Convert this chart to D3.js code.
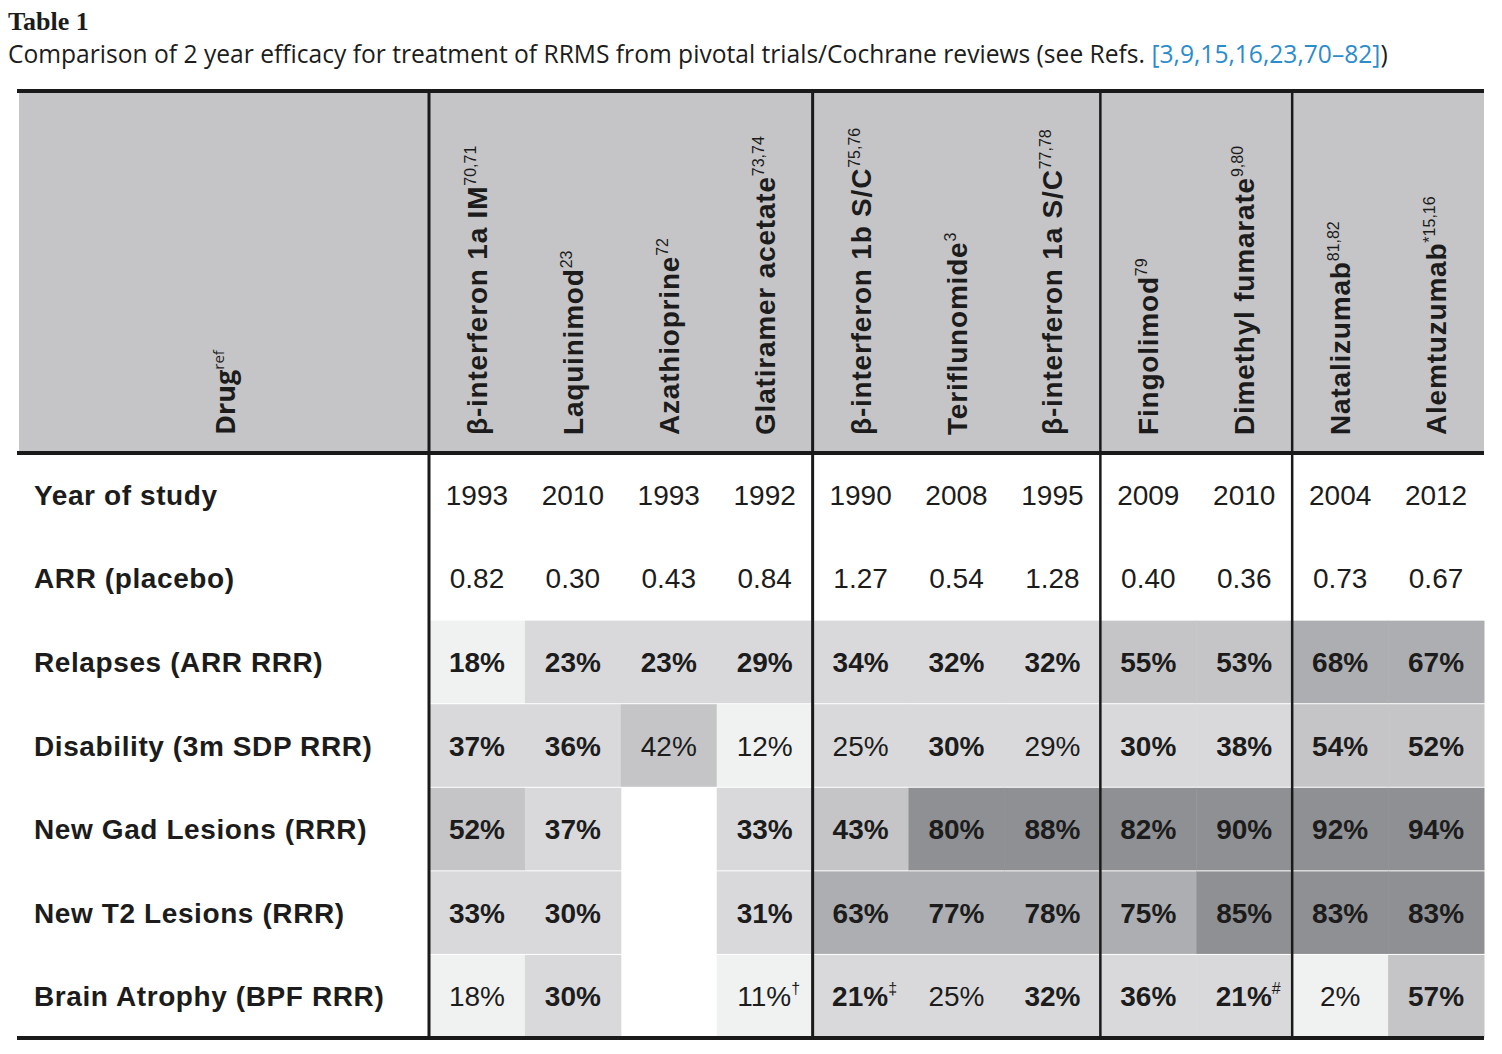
<!DOCTYPE html>
<html>
<head>
<meta charset="utf-8">
<script src="https://cdn.jsdelivr.net/npm/d3@7"></script>
<style>
  body { margin: 0; background: #fff; }
  svg text { fill: #1c1c1c; }
</style>
</head>
<body>
<svg id="tbl" width="1502" height="1054"></svg>
<script>
// table values
const drugs = ["β-interferon 1a IM", "Laquinimod", "Azathioprine", "Glatiramer acetate",
  "β-interferon 1b S/C", "Teriflunomide", "β-interferon 1a S/C",
  "Fingolimod", "Dimethyl fumarate", "Natalizumab", "Alemtuzumab"];
const drugRefs = ["70,71", "23", "72", "73,74", "75,76", "3", "77,78", "79", "9,80", "81,82", "*15,16"];
const groupEnds = [3, 6, 8]; // last drug index of each group

const rowLabels = ["Year of study", "ARR (placebo)", "Relapses (ARR RRR)", "Disability (3m SDP RRR)",
  "New Gad Lesions (RRR)", "New T2 Lesions (RRR)", "Brain Atrophy (BPF RRR)"];

const years = [1993, 2010, 1993, 1992, 1990, 2008, 1995, 2009, 2010, 2004, 2012];
const arrPlacebo = [0.82, 0.30, 0.43, 0.84, 1.27, 0.54, 1.28, 0.40, 0.36, 0.73, 0.67];
const relapses = [18, 23, 23, 29, 34, 32, 32, 55, 53, 68, 67];
const disability = [37, 36, 42, 12, 25, 30, 29, 30, 38, 54, 52];
const gadLesions = [52, 37, null, 33, 43, 80, 88, 82, 90, 92, 94];
const t2Lesions = [33, 30, null, 31, 63, 77, 78, 75, 85, 83, 83];
const brainAtrophy = [18, 30, null, 11, 21, 25, 32, 36, 21, 2, 57];

// significant (bold) results
const relapsesSig = [1, 1, 1, 1, 1, 1, 1, 1, 1, 1, 1];
const disabilitySig = [1, 1, 0, 0, 0, 1, 0, 1, 1, 1, 1];
const gadSig = [1, 1, 0, 1, 1, 1, 1, 1, 1, 1, 1];
const t2Sig = [1, 1, 0, 1, 1, 1, 1, 1, 1, 1, 1];
const brainSig = [0, 1, 0, 0, 1, 0, 1, 1, 1, 0, 1];
const brainNotes = ["", "", "", "†", "‡", "", "", "", "#", "", ""];

const svg = d3.select("#tbl");
const left = 19, right = 1484, labelRight = 429;
const headTop = 91, headBottom = 453, bottom = 1038;
const font = "'Liberation Sans', Arial, Helvetica, sans-serif";

// caption
svg.append("text")
  .attr("x", 8).attr("y", 30)
  .style("font-family", "'Liberation Serif', serif")
  .style("font-weight", "bold").style("font-size", "26px")
  .text("Table 1");
const cap = svg.append("text")
  .attr("x", 8).attr("y", 63)
  .style("font-family", "'Open Sans', sans-serif")
  .style("font-size", "24.6px");
cap.append("tspan").text("Comparison of 2 year efficacy for treatment of RRMS from pivotal trials/Cochrane reviews (see Refs. ");
cap.append("tspan").style("fill", "#2b8ccc").text("[3,9,15,16,23,70–82]");
cap.append("tspan").text(")");

const x = d3.scaleBand().domain(d3.range(drugs.length)).range([labelRight, right]);
const y = d3.scaleBand().domain(rowLabels).range([headBottom, bottom]);

const shade = d3.scaleThreshold()
  .domain([20, 40, 60, 80])
  .range(["#f0f1f1", "#d9d9db", "#c5c5c7", "#adaeb1", "#8f9093"]);

// header background
svg.append("rect")
  .attr("x", left).attr("y", headTop)
  .attr("width", right - left).attr("height", headBottom - headTop)
  .attr("fill", "#c5c5c7");

// drug header labels (rotated)
const hdr = svg.append("g").selectAll("text")
  .data(drugs)
  .join("text")
  .attr("transform", (d, i) => `translate(${x(i) + x.bandwidth() / 2 + 10},435) rotate(-90)`)
  .style("font-family", font).style("font-weight", "bold").style("font-size", "28px")
  .style("letter-spacing", "0.8px");
hdr.append("tspan").text(d => d);
hdr.append("tspan")
  .attr("dy", -11)
  .style("font-size", "16px").style("font-weight", "normal").style("letter-spacing", "0px")
  .text((d, i) => drugRefs[i]);

const drugHead = svg.append("text")
  .attr("transform", `translate(${left + (labelRight - left) / 2 + 11},435) rotate(-90)`)
  .style("font-family", "'Open Sans', sans-serif").style("font-weight", "bold").style("font-size", "27px");
drugHead.append("tspan").text("Drug");
drugHead.append("tspan").attr("dy", -11).style("font-size", "15px").style("font-weight", "normal").text("ref");

// body rows
const rows = [
  {label: rowLabels[0], vals: years.map(v => ({text: String(v), bold: false, fill: "#fff"}))},
  {label: rowLabels[1], vals: arrPlacebo.map(v => ({text: v.toFixed(2), bold: false, fill: "#fff"}))},
  {label: rowLabels[2], vals: relapses.map((v, i) => ({text: v + "%", bold: !!relapsesSig[i], fill: shade(v)}))},
  {label: rowLabels[3], vals: disability.map((v, i) => ({text: v + "%", bold: !!disabilitySig[i], fill: shade(v)}))},
  {label: rowLabels[4], vals: gadLesions.map((v, i) => v == null ? null : ({text: v + "%", bold: !!gadSig[i], fill: shade(v)}))},
  {label: rowLabels[5], vals: t2Lesions.map((v, i) => v == null ? null : ({text: v + "%", bold: !!t2Sig[i], fill: shade(v)}))},
  {label: rowLabels[6], vals: brainAtrophy.map((v, i) => v == null ? null : ({text: v + "%", bold: !!brainSig[i], fill: shade(v), note: brainNotes[i]}))}
];

const rowG = svg.append("g").selectAll("g")
  .data(rows)
  .join("g")
  .attr("transform", d => `translate(0,${y(d.label)})`);

rowG.append("text")
  .attr("x", 34).attr("y", y.bandwidth() / 2).attr("dy", "0.36em")
  .style("font-family", font).style("font-weight", "bold").style("font-size", "28px")
  .style("letter-spacing", "0.6px")
  .text(d => d.label);

const cell = rowG.selectAll("g.cell")
  .data(d => d.vals.map((v, i) => ({v, i})).filter(c => c.v != null))
  .join("g")
  .attr("class", "cell");

cell.append("rect")
  .attr("x", c => x(c.i)).attr("y", 0.5)
  .attr("width", x.bandwidth() + 0.5).attr("height", y.bandwidth() - 1)
  .attr("fill", c => c.v.fill);

const cellText = cell.append("text")
  .attr("x", c => x(c.i) + x.bandwidth() / 2 + (c.v.note ? 4 : 0))
  .attr("y", y.bandwidth() / 2).attr("dy", "0.36em")
  .attr("text-anchor", "middle")
  .style("font-family", font).style("font-size", "28px")
  .style("font-weight", c => c.v.bold ? "bold" : "normal");
cellText.append("tspan").text(c => c.v.text);
cellText.filter(c => c.v.note).append("tspan")
  .attr("dy", -12).style("font-size", "16px").style("font-weight", "normal")
  .text(c => c.v.note);

// rules
const vx = [labelRight].concat(groupEnds.map(g => x(g) + x.bandwidth()));
svg.append("g").selectAll("line")
  .data(vx)
  .join("line")
  .attr("x1", d => d).attr("x2", d => d)
  .attr("y1", headTop).attr("y2", bottom)
  .attr("stroke", "#1a1a1a")
  .attr("stroke-width", (d, i) => i < 2 ? 3 : 2.5);

svg.append("g").selectAll("line")
  .data([headTop, headBottom, bottom])
  .join("line")
  .attr("x1", left - 2).attr("x2", right)
  .attr("y1", d => d).attr("y2", d => d)
  .attr("stroke", "#1a1a1a").attr("stroke-width", 4);
</script>
</body>
</html>
